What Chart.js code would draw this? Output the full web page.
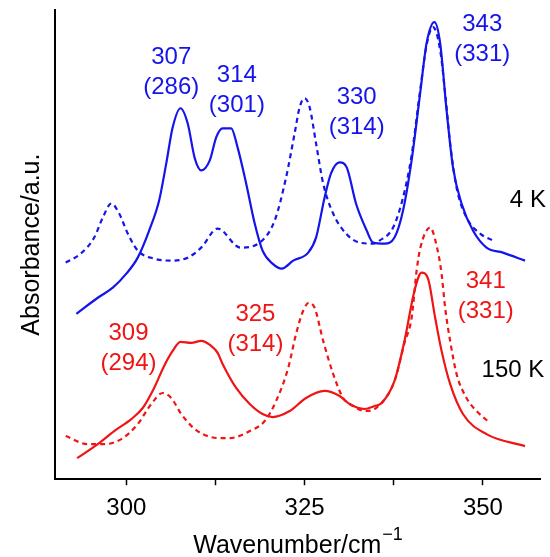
<!DOCTYPE html>
<html>
<head>
<meta charset="utf-8">
<script src="https://cdn.jsdelivr.net/npm/chart.js@4/dist/chart.umd.min.js"></script>
<style>
  html, body { margin: 0; padding: 0; background: #fff; }
  #wrap { width: 550px; height: 557px; }
</style>
</head>
<body>
<div id="wrap"><canvas id="c"></canvas></div>
<script>
// spectra: wavenumber (cm-1) / absorbance (a.u.)
const blueSolidX = [293.0, 296.0, 298.1, 300.0, 301.6, 303.2, 304.6, 305.6, 306.5, 307.6, 308.6, 309.6, 310.5, 311.7, 312.6, 313.5, 314.7, 315.6, 316.8, 318.0, 319.1, 320.5, 321.8, 323.4, 325.5, 326.6, 327.8, 328.7, 329.9, 330.9, 332.2, 333.7, 334.6, 336.2, 337.6, 338.8, 340.0, 341.2, 342.1, 343.2, 344.0, 344.9, 345.8, 347.0, 348.6, 350.5, 352.8, 355.9];
const blueSolidY = [1.65, 1.81, 1.91, 2.05, 2.21, 2.48, 2.78, 3.15, 3.51, 3.70, 3.55, 3.20, 3.08, 3.18, 3.41, 3.50, 3.50, 3.31, 2.95, 2.55, 2.28, 2.15, 2.10, 2.18, 2.26, 2.41, 2.81, 3.05, 3.16, 3.11, 2.75, 2.48, 2.36, 2.35, 2.41, 2.68, 3.18, 3.85, 4.35, 4.56, 4.35, 3.68, 3.11, 2.75, 2.48, 2.31, 2.26, 2.18];

const blueDashX = [291.5, 293.6, 295.5, 296.7, 297.9, 299.0, 300.2, 301.6, 303.9, 306.3, 308.6, 310.5, 312.8, 316.0, 318.7, 320.8, 322.4, 323.6, 324.3, 325.0, 325.7, 326.6, 327.6, 329.0, 330.8, 332.7, 334.6, 335.5, 337.4, 338.8, 340.0, 341.2, 342.1, 343.0, 344.0, 344.8, 345.4, 346.3, 347.7, 349.6, 351.4];
const blueDashY = [2.16, 2.25, 2.41, 2.61, 2.75, 2.65, 2.45, 2.28, 2.20, 2.18, 2.21, 2.31, 2.50, 2.31, 2.36, 2.58, 3.01, 3.45, 3.71, 3.80, 3.71, 3.35, 2.95, 2.65, 2.45, 2.36, 2.35, 2.38, 2.51, 2.81, 3.23, 3.88, 4.33, 4.51, 4.28, 3.78, 3.35, 2.91, 2.61, 2.45, 2.38];

const redSolidX = [293.1, 296.0, 298.3, 300.7, 302.3, 303.9, 305.3, 306.5, 307.6, 309.1, 310.5, 311.9, 312.8, 313.5, 315.4, 317.3, 319.1, 320.5, 322.9, 325.2, 327.8, 329.9, 331.3, 333.4, 334.8, 335.8, 337.6, 339.0, 340.4, 341.4, 342.3, 343.3, 344.2, 345.4, 347.2, 350.5, 355.9];
const redSolidY = [0.21, 0.35, 0.48, 0.60, 0.71, 0.91, 1.13, 1.28, 1.37, 1.36, 1.38, 1.33, 1.26, 1.15, 0.91, 0.75, 0.65, 0.62, 0.68, 0.81, 0.88, 0.83, 0.75, 0.70, 0.73, 0.76, 0.98, 1.38, 1.88, 2.06, 2.00, 1.61, 1.28, 0.95, 0.65, 0.45, 0.33];

const redDashX = [291.5, 294.6, 296.9, 299.3, 301.6, 303.5, 305.1, 306.3, 307.7, 309.6, 311.4, 313.1, 314.5, 317.3, 319.4, 321.0, 322.7, 323.8, 324.8, 325.6, 326.4, 327.6, 329.0, 330.4, 331.8, 333.4, 335.0, 337.6, 339.0, 340.0, 340.7, 341.2, 342.6, 343.5, 344.2, 344.7, 345.4, 346.3, 347.7, 349.1, 351.0];
const redDashY = [0.43, 0.35, 0.35, 0.40, 0.55, 0.75, 0.86, 0.81, 0.65, 0.50, 0.43, 0.41, 0.41, 0.48, 0.58, 0.78, 1.11, 1.45, 1.68, 1.76, 1.71, 1.38, 1.05, 0.81, 0.73, 0.68, 0.71, 0.98, 1.36, 1.61, 2.08, 2.30, 2.51, 2.33, 2.05, 1.71, 1.38, 1.05, 0.81, 0.68, 0.56];

// peak labels (anchor in data units)
const peakLabels = [
  { x: 306.3, y: 4.21, lines: ["307", "(286)"], color: "blue" },
  { x: 315.5, y: 4.03, lines: ["314", "(301)"], color: "blue" },
  { x: 332.3, y: 3.81, lines: ["330", "(314)"], color: "blue" },
  { x: 349.9, y: 4.54, lines: ["343", "(331)"], color: "blue" },
  { x: 300.3, y: 1.45, lines: ["309", "(294)"], color: "red" },
  { x: 318.1, y: 1.64, lines: ["325", "(314)"], color: "red" },
  { x: 350.4, y: 1.97, lines: ["341", "(331)"], color: "red" },
  { x: 356.3, y: 2.78, lines: ["4 K"], color: "black" },
  { x: 354.2, y: 1.09, lines: ["150 K"], color: "black" }
];

const xTicksMajor = [300, 325, 350];

const BLUE = "rgb(20,20,235)";
const RED = "rgb(240,20,20)";
const FONT = "'Liberation Sans', Arial, sans-serif";

function pts(xs, ys) {
  return xs.map((x, i) => ({ x, y: ys[i] }));
}

function line(label, xs, ys, color, dashed) {
  return {
    label,
    data: pts(xs, ys),
    borderColor: color,
    borderWidth: 2.2,
    borderDash: dashed ? [5, 4] : [],
    pointRadius: 0,
    cubicInterpolationMode: "monotone",
    fill: false
  };
}

const COLORS = { blue: BLUE, red: RED, black: "#000" };

const textPlugin = {
  id: "texts",
  afterDraw(chart) {
    const { ctx, scales: { x, y }, chartArea } = chart;
    ctx.save();
    ctx.textAlign = "center";
    ctx.textBaseline = "middle";
    ctx.font = `24px ${FONT}`;
    for (const lab of peakLabels) {
      ctx.fillStyle = COLORS[lab.color];
      const px = x.getPixelForValue(lab.x);
      const py = y.getPixelForValue(lab.y);
      lab.lines.forEach((t, i) => ctx.fillText(t, px, py + i * 30));
    }
    // x axis title with superscript
    const main = "Wavenumber/cm";
    const sup = "\u22121";
    ctx.fillStyle = "#000";
    ctx.font = `25px ${FONT}`;
    const wMain = ctx.measureText(main).width;
    ctx.font = `18px ${FONT}`;
    const wSup = ctx.measureText(sup).width;
    const total = wMain + wSup;
    const cx = (chartArea.left + chartArea.right) / 2;
    const ty = chartArea.bottom + 67;
    ctx.textAlign = "left";
    ctx.font = `25px ${FONT}`;
    ctx.fillText(main, cx - total / 2, ty);
    ctx.font = `18px ${FONT}`;
    ctx.fillText(sup, cx - total / 2 + wMain + 1, ty - 11);
    ctx.restore();
  }
};

new Chart(document.getElementById("c"), {
  type: "line",
  data: {
    datasets: [
      line("4 K calc", blueDashX, blueDashY, BLUE, true),
      line("4 K", blueSolidX, blueSolidY, BLUE, false),
      line("150 K calc", redDashX, redDashY, RED, true),
      line("150 K", redSolidX, redSolidY, RED, false)
    ]
  },
  options: {
    responsive: true,
    maintainAspectRatio: false,
    animation: false,
    layout: { padding: { top: 10, right: 10, left: 11, bottom: 25 } },
    plugins: { legend: { display: false }, tooltip: { enabled: false } },
    scales: {
      x: {
        type: "linear",
        min: 290,
        max: 358,
        border: { display: true, color: "#000", width: 2 },
        grid: { display: true, drawOnChartArea: false, drawTicks: true, tickLength: 6, color: "#000", tickWidth: 1.5 },
        ticks: {
          stepSize: 12.5,
          includeBounds: false,
          autoSkip: false,
          maxRotation: 0,
          padding: 9,
          color: "#000",
          font: { size: 24, family: FONT },
          callback: v => xTicksMajor.includes(v) ? String(v) : ""
        },
        title: { display: false }
      },
      y: {
        min: 0,
        max: 4.68,
        border: { display: true, color: "#000", width: 2 },
        grid: { display: false, drawTicks: false },
        ticks: { display: false },
        title: {
          display: true,
          text: "Absorbance/a.u.",
          color: "#000",
          font: { size: 25, family: FONT },
          padding: { top: 6, bottom: 8 }
        }
      }
    }
  },
  plugins: [textPlugin]
});
</script>
</body>
</html>
